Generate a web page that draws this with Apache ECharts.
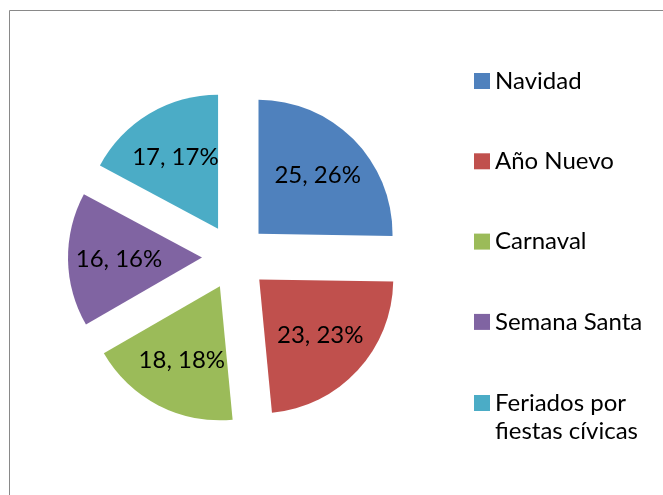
<!DOCTYPE html>
<html><head><meta charset="utf-8">
<script src="https://cdn.jsdelivr.net/npm/echarts@6/dist/echarts.min.js"></script>
<style>html,body{margin:0;padding:0;background:#fff}#c{width:663px;height:495px}</style>
</head><body><div id="c"></div>
<script>
const categories = ['Navidad', 'Año Nuevo', 'Carnaval', 'Semana Santa', 'Feriados por\nfiestas cívicas'];
const values = [25, 23, 18, 16, 17];
const percentLabels = [26, 23, 18, 16, 17];
const colors = ['#4F81BD', '#C0504D', '#9BBB59', '#8064A2', '#4BACC6'];

const FONT = 'Lato';
const FS = 24;
const LH = 28;
const center = [235, 257];
const R = 134;
const OFF = 33;

const pieData = categories.map((n, i) => ({ name: n, value: values[i], selected: true, itemStyle: { color: colors[i] } }));
const labelData = categories.map((n, i) => ({ name: n, value: values[i], selected: true }));

const chart = echarts.init(document.getElementById('c'), null, { renderer: 'canvas' });
chart.setOption({
  animation: false,
  color: colors,
  graphic: [{ type: 'rect', shape: { x: 9.5, y: 10.5, width: 800, height: 800 }, style: { fill: 'none', stroke: '#898989', lineWidth: 1 }, silent: true, z: -1 }],
  legend: [{
    orient: 'vertical', left: 474, top: 81 - LH / 2, padding: 0,
    itemWidth: 16, itemHeight: 16, itemGap: 80.3 - LH, icon: 'rect',
    data: categories.slice(0, 4),
    textStyle: { fontFamily: FONT, fontSize: FS, color: '#000', lineHeight: LH },
    selectedMode: false
  }, {
    orient: 'vertical', left: 474, top: 403 - 1.5 * LH, padding: 0,
    itemWidth: 16, itemHeight: 16, icon: 'rect',
    data: [categories[4]],
    formatter: name => '\n' + name,
    textStyle: { fontFamily: FONT, fontSize: FS, color: '#000', lineHeight: LH },
    selectedMode: false
  }],
  series: [{
    type: 'pie', center: center, radius: [0, R], startAngle: 90, clockwise: true,
    selectedMode: 'multiple', selectedOffset: OFF,
    label: { show: false }, labelLine: { show: false },
    emphasis: { disabled: true }, silent: true,
    itemStyle: { borderWidth: 0 },
    data: pieData
  }, {
    type: 'pie', center: center, radius: [26, R], startAngle: 90, clockwise: true,
    selectedMode: 'multiple', selectedOffset: OFF,
    itemStyle: { color: 'rgba(0,0,0,0)', borderWidth: 0 },
    emphasis: { disabled: true }, silent: true,
    labelLine: { show: false },
    label: {
      show: true, position: 'inside', fontFamily: FONT, fontSize: FS, color: '#000',
      formatter: p => p.value + ', ' + percentLabels[p.dataIndex] + '%'
    },
    data: labelData
  }]
});
</script></body></html>
